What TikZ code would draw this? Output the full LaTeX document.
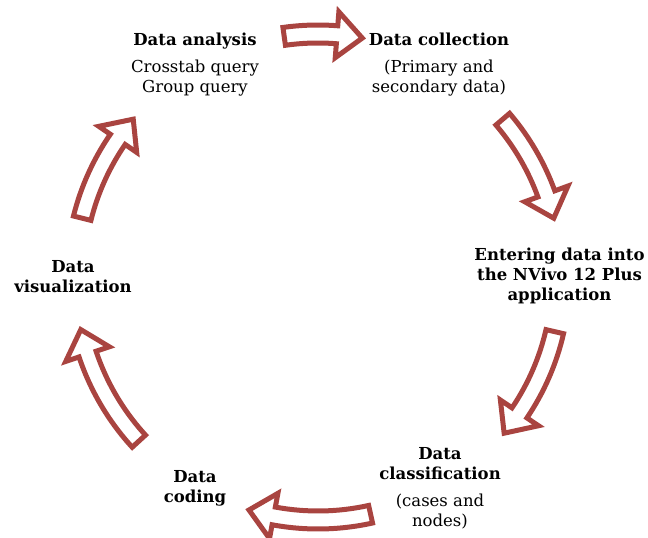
\documentclass[tikz,border=0pt]{standalone}
\usepackage{fontspec}
\setmainfont{DejaVu Serif}
\definecolor{arrowred}{RGB}{169,68,64}
\tikzset{
  cyclearrow/.style={draw=arrowred, line width=5pt, fill=white, line join=miter},
  steptext/.style={align=center, font=\fontsize{16.5}{20}\selectfont, inner sep=0pt},
}
\newcommand\cyclearrowshape[2]{%
  \pgfmathsetmacro\hbase{#2+6*sign(#1-#2)}%
  \draw[cyclearrow] (#1:252) arc[start angle=#1, end angle=\hbase, radius=252]
    -- (\hbase:266) -- (#2:243) -- (\hbase:220) -- (\hbase:234)
    arc[start angle=\hbase, end angle=#1, radius=234] -- cycle;
}
\begin{document}
\begin{tikzpicture}[x=1pt,y=1pt]
\useasboundingbox (-318,-261) rectangle (330,277);
% arrows
\cyclearrowshape{98}{79.5}
\cyclearrowshape{40.5}{14}
\cyclearrowshape{-13}{-40}
\cyclearrowshape{-77.5}{-106.5}
\cyclearrowshape{-137.5}{-167.5}
\cyclearrowshape{166}{139.5}
% texts
\node[steptext] (analysis) at (-123,212.5) {\textbf{Data analysis}\\[7pt]Crosstab query\\Group query};
\node[steptext] (collection) at (121,212.5) {\textbf{Data collection}\\[7pt](Primary and\\secondary data)};
\node[steptext] (entering) at (241.5,1) {\textbf{Entering data into}\\\textbf{the NVivo 12 Plus}\\\textbf{application}};
\node[steptext] (classification) at (122,-211.5) {\textbf{Data}\\\textbf{classification}\\[7pt](cases and\\nodes)};
\node[steptext] (coding) at (-123,-211) {\textbf{Data}\\\textbf{coding}};
\node[steptext] (visualization) at (-245,0) {\textbf{Data}\\\textbf{visualization}};
\end{tikzpicture}
\end{document}
